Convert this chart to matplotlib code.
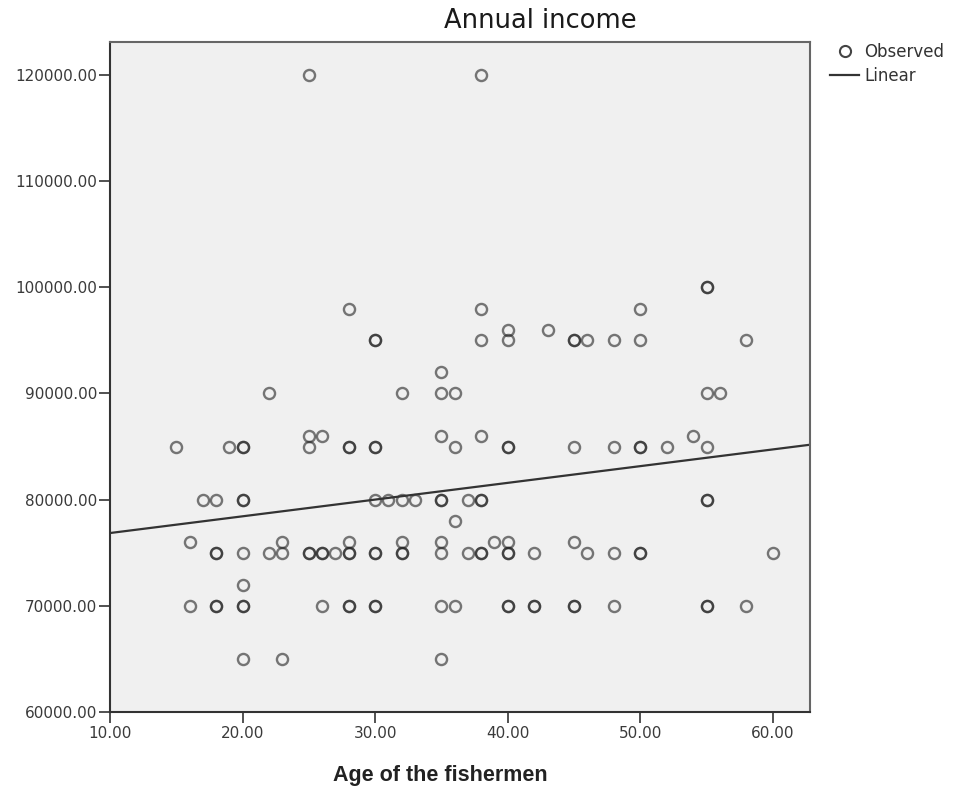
import matplotlib
matplotlib.use("Agg")
import matplotlib.pyplot as plt
from matplotlib.lines import Line2D
import numpy as np

plt.rcParams['font.family'] = ['DejaVu Sans']

# Observed ages of fishermen, grouped by reported annual income
ages_120000 = [25, 38]
ages_100000 = [55, 55]
ages_98000 = [28, 38, 50]
ages_96000 = [40, 43]
ages_95000 = [30, 30, 38, 40, 45, 45, 46, 48, 50, 58]
ages_92000 = [35]
ages_90000 = [22, 32, 35, 36, 55, 56]
ages_86000 = [25, 26, 35, 38, 54]
ages_85000 = [15, 19, 20, 20, 25, 28, 28, 30, 30, 36, 40, 40, 45, 48, 50, 50, 52, 55]
ages_80000 = [17, 18, 20, 20, 30, 31, 32, 33, 35, 35, 37, 38, 38, 55, 55]
ages_78000 = [36]
ages_76000 = [16, 23, 28, 32, 35, 39, 40, 45]
ages_75000 = [18, 18, 20, 22, 23, 25, 25, 26, 26, 27, 28, 28, 30, 30, 32, 32,
              35, 37, 38, 38, 40, 40, 42, 46, 48, 50, 50, 60]
ages_72000 = [20]
ages_70000 = [16, 18, 18, 20, 20, 26, 28, 28, 30, 30, 35, 36, 40, 40, 42, 42,
              45, 45, 48, 55, 55, 58]
ages_65000 = [20, 23, 35]

income_levels = [120000, 100000, 98000, 96000, 95000, 92000, 90000, 86000,
                 85000, 80000, 78000, 76000, 75000, 72000, 70000, 65000]
age_groups = [ages_120000, ages_100000, ages_98000, ages_96000, ages_95000,
              ages_92000, ages_90000, ages_86000, ages_85000, ages_80000,
              ages_78000, ages_76000, ages_75000, ages_72000, ages_70000,
              ages_65000]

# Linear fit line: income = intercept + slope * age
fit_intercept = 75280.0
fit_slope = 157.5

x_ticks = [10, 20, 30, 40, 50, 60]
y_ticks = [60000, 70000, 80000, 90000, 100000, 110000, 120000]

age = np.concatenate([np.array(g, dtype=float) for g in age_groups])
income = np.concatenate([np.full(len(g), lvl, dtype=float)
                         for g, lvl in zip(age_groups, income_levels)])

fig = plt.figure(figsize=(9.56, 7.92), dpi=100)
ax = fig.add_axes([110 / 956, 1 - 712 / 792, 700 / 956, 670 / 792])
ax.set_facecolor('#f0f0f0')

ax.plot(age, income, linestyle='none', marker='o', markersize=8,
        markerfacecolor='none', markeredgecolor='#222222',
        markeredgewidth=1.7, alpha=0.6)

x_lo, x_hi = 10, 62.8
y_lo, y_hi = 60000, 123100
xs = np.array([x_lo, x_hi])
ax.plot(xs, fit_intercept + fit_slope * xs, color='#333333', lw=1.6)

ax.set_xlim(x_lo, x_hi)
ax.set_ylim(y_lo, y_hi)
ax.set_xticks(x_ticks)
ax.set_yticks(y_ticks)
ax.set_xticklabels([f"{v:.2f}" for v in x_ticks])
ax.set_yticklabels([f"{v:.2f}" for v in y_ticks])
ax.tick_params(axis='both', direction='out', length=8, width=1.2,
               color='#333333', labelsize=11, labelcolor='#3a3a3a')
ax.tick_params(axis='y', pad=1)
ax.tick_params(axis='x', pad=2)

for side in ['left', 'bottom']:
    ax.spines[side].set_color('#333333')
    ax.spines[side].set_linewidth(1.5)
for side in ['top', 'right']:
    ax.spines[side].set_color('#666666')
    ax.spines[side].set_linewidth(1.5)

fig.text(540 / 956, 1 - 21 / 792, 'Annual income', ha='center', va='center',
         fontsize=18.5, color='#1a1a1a')
fig.text(440 / 956, 1 - 775 / 792, 'Age of the fishermen', ha='center',
         va='center', fontsize=15.5, fontweight='bold', color='#222222',
         family=['Liberation Sans', 'DejaVu Sans'])

handles = [
    Line2D([], [], linestyle='none', marker='o', markersize=8,
           markerfacecolor='none', markeredgecolor='#444444',
           markeredgewidth=1.5, label='Observed'),
    Line2D([], [], color='#333333', lw=1.6, label='Linear'),
]
fig.legend(handles=handles, loc='upper left',
           bbox_to_anchor=(830 / 956, 1 - 43 / 792), frameon=False,
           fontsize=12, handlelength=1.75, handletextpad=0.3,
           labelspacing=0.35, borderaxespad=0, borderpad=0,
           labelcolor='#333333')

fig.savefig('out.png', dpi=100, facecolor='white')
